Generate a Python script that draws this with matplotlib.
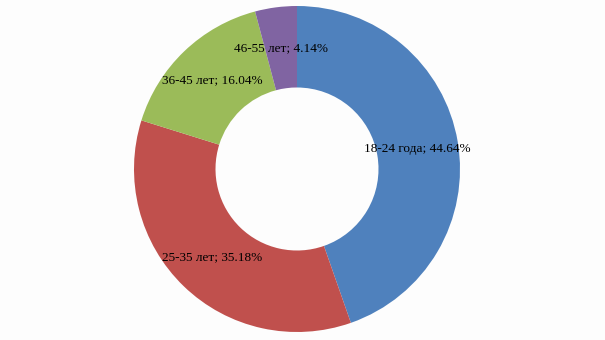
import numpy as np
from matplotlib import pyplot as plt

# Age groups and shares (%)
groups = ["18-24 года", "25-35 лет", "36-45 лет", "46-55 лет"]
shares = [44.64, 35.18, 16.04, 4.14]
colors = ["#4F81BD", "#C0504D", "#9BBB59", "#8064A2"]

fig = plt.figure(figsize=(6.05, 3.4), dpi=100)
fig.patch.set_facecolor("#FDFDFD")
ax = fig.add_axes([134 / 605, 8 / 340, 326 / 605, 326 / 340])

wedges, _ = ax.pie(
    shares,
    colors=colors,
    startangle=90,
    counterclock=False,
    radius=1.0,
    wedgeprops=dict(width=0.5, linewidth=0),
)

# - Data labels at the middle of the ring (clockwise from 12 o'clock)
label_shift = [0, 0, 0, 0]
cum = np.cumsum(shares) - np.array(shares) / 2
for c, g, s, dx in zip(cum, groups, shares, label_shift):
    ang = np.deg2rad(90 - 360 * c / sum(shares))
    x = 0.75 * np.cos(ang) + dx
    y = 0.75 * np.sin(ang)
    ax.text(
        x, y, f"{g}; {s:.2f}%",
        ha="center", va="center",
        family="Liberation Serif", fontsize=9.5, color="black",
    )

ax.set_xlim(-1, 1)
ax.set_ylim(-1, 1)
ax.set_aspect("equal")
ax.axis("off")

plt.savefig("out.png", dpi=100, facecolor=fig.get_facecolor())
